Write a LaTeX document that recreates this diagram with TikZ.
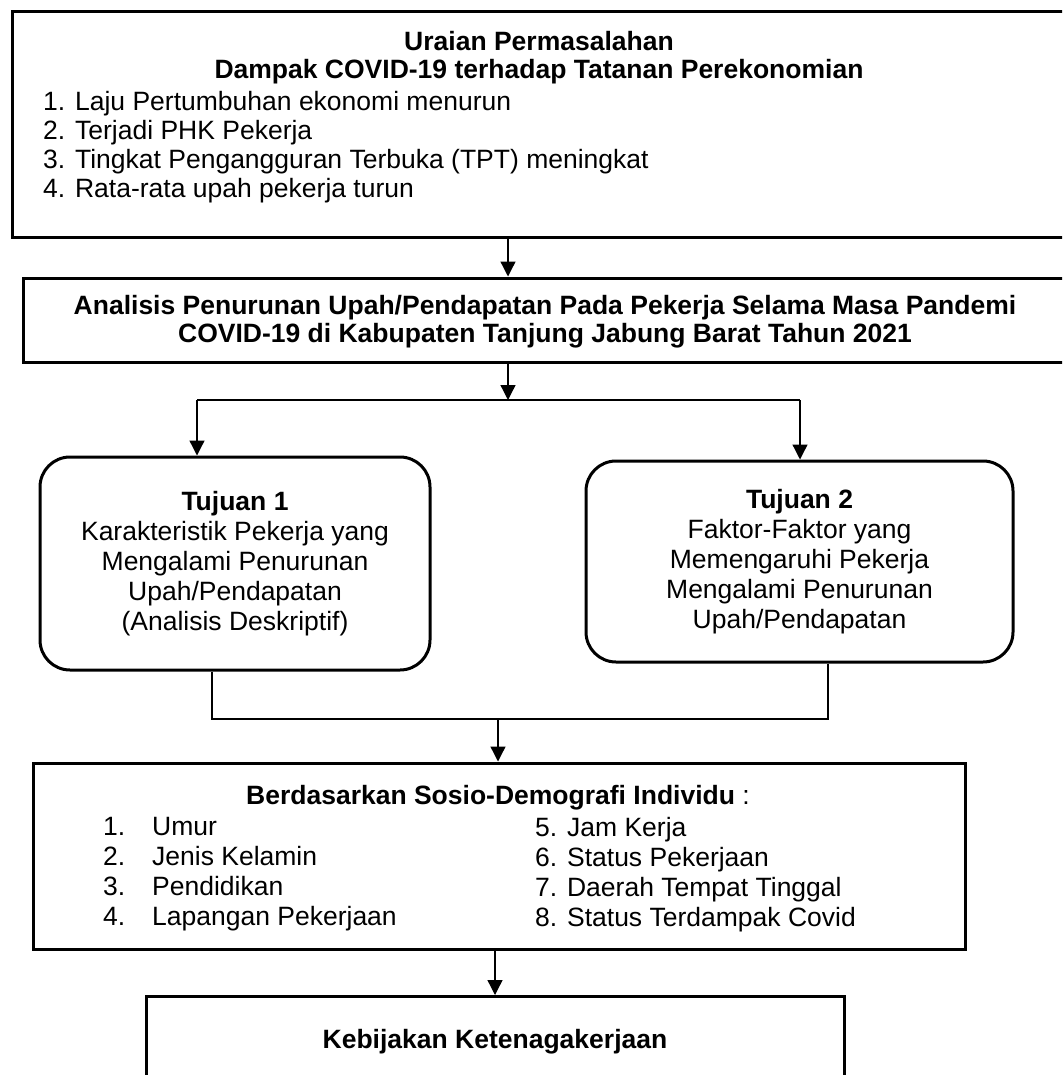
\documentclass[tikz,border=0pt]{standalone}
\usepackage{fontspec}
\setmainfont{Liberation Sans}
\usetikzlibrary{arrows.meta, positioning}

\begin{document}
\begin{tikzpicture}[x=1pt, y=-1pt,
		kotak/.style={rectangle, draw=black, line width=3pt, inner sep=0pt},
		tujuan/.style={rectangle, rounded corners=30pt, draw=black, line width=3pt, inner sep=0pt, align=center, font=\fontsize{26.5}{30}\selectfont},
		judul/.style={inner sep=0pt, align=center, font=\fontsize{26.5}{28}\selectfont\bfseries},
		teks/.style={inner sep=0pt, align=left, font=\fontsize{26.5}{30}\selectfont},
		garis/.style={line width=1.3pt},
		arrow/.style={-{Triangle[length=15pt, width=15pt]}, line width=1.3pt}
		]
		\useasboundingbox (0,0) rectangle (1062,1075);
		\clip (0,0) rectangle (1062,1075);
		
		% kotak uraian permasalahan (sisi kanan terpotong)
		\node[kotak, minimum width=1120pt, minimum height=226pt] (uraian) at (572,125) {};
		\node[judul] (uraianjudul) at (539,58) {Uraian Permasalahan\\Dampak COVID-19 terhadap Tatanan Perekonomian};
		\node[teks, anchor=west, font=\fontsize{26.5}{29}\selectfont] (uraianisi) at (43,147) {1. Laju Pertumbuhan ekonomi menurun\\2. Terjadi PHK Pekerja\\3. Tingkat Pengangguran Terbuka (TPT) meningkat\\4. Rata-rata upah pekerja turun};
		
		\node[kotak, minimum width=1110pt, minimum height=84pt] (analisis) at (578,320) {};
		\node[judul] (analisisjudul) at (545,322) {Analisis Penurunan Upah/Pendapatan Pada Pekerja Selama Masa Pandemi\\COVID-19 di Kabupaten Tanjung Jabung Barat Tahun 2021};
		
		% dua tujuan
		\node[tujuan, minimum width=390pt, minimum height=213pt] (tujuan1) at (235,563.5) {\textbf{Tujuan 1}\\Karakteristik Pekerja yang\\Mengalami Penurunan\\Upah/Pendapatan\\(Analisis Deskriptif)};
		\node[tujuan, minimum width=427pt, minimum height=201pt] (tujuan2) at (799.5,561.5) {\textbf{Tujuan 2}\\Faktor-Faktor yang\\Memengaruhi Pekerja\\Mengalami Penurunan\\Upah/Pendapatan};
		
		% sosio-demografi
		\node[kotak, minimum width=932pt, minimum height=186pt] (sosio) at (499,856) {};
		\node[teks] (sosiojudul) at (498,797.5) {\textbf{Berdasarkan Sosio-Demografi Individu} :};
		\node[teks, anchor=west] (sosiokiri) at (103,874.5) {\makebox[49pt][l]{1.}Umur\\\makebox[49pt][l]{2.}Jenis Kelamin\\\makebox[49pt][l]{3.}Pendidikan\\\makebox[49pt][l]{4.}Lapangan Pekerjaan};
		\node[teks, anchor=west] (sosiokanan) at (535,874.5) {5. Jam Kerja\\6. Status Pekerjaan\\7. Daerah Tempat Tinggal\\8. Status Terdampak Covid};
		
		\node[kotak, minimum width=698pt, minimum height=160pt, anchor=north] (kebijakan) at (495,995) {};
		\node[judul] (kebijakanjudul) at (495,1042) {Kebijakan Ketenagakerjaan};
		
		% titik cabang
		\coordinate (cabang) at (508,400);
		\coordinate (cabangkiri) at (197,400);
		\coordinate (cabangkanan) at (800,400);
		\coordinate (gabung) at (498,719);
		\coordinate (gabungkiri) at (212,719);
		\coordinate (gabungkanan) at (828,719);
		
		\draw[arrow] (uraian.south -| cabang) -- (analisis.north -| cabang);
		\draw[arrow] (analisis.south -| cabang) -- (cabang);
		\draw[garis] (cabangkiri) -- (cabangkanan);
		\draw[arrow] (cabangkiri) -- (cabangkiri |- tujuan1.north);
		\draw[arrow] (cabangkanan) -- (cabangkanan |- tujuan2.north);
		\draw[garis] (tujuan1.south -| gabungkiri) -- (gabungkiri) -- (gabungkanan) -- (tujuan2.south -| gabungkanan);
		\draw[arrow] (gabung) -- (sosio.north -| gabung);
		\draw[arrow] (sosio.south -| kebijakan.north) -- (kebijakan.north);
		
	\end{tikzpicture}
\end{document}
